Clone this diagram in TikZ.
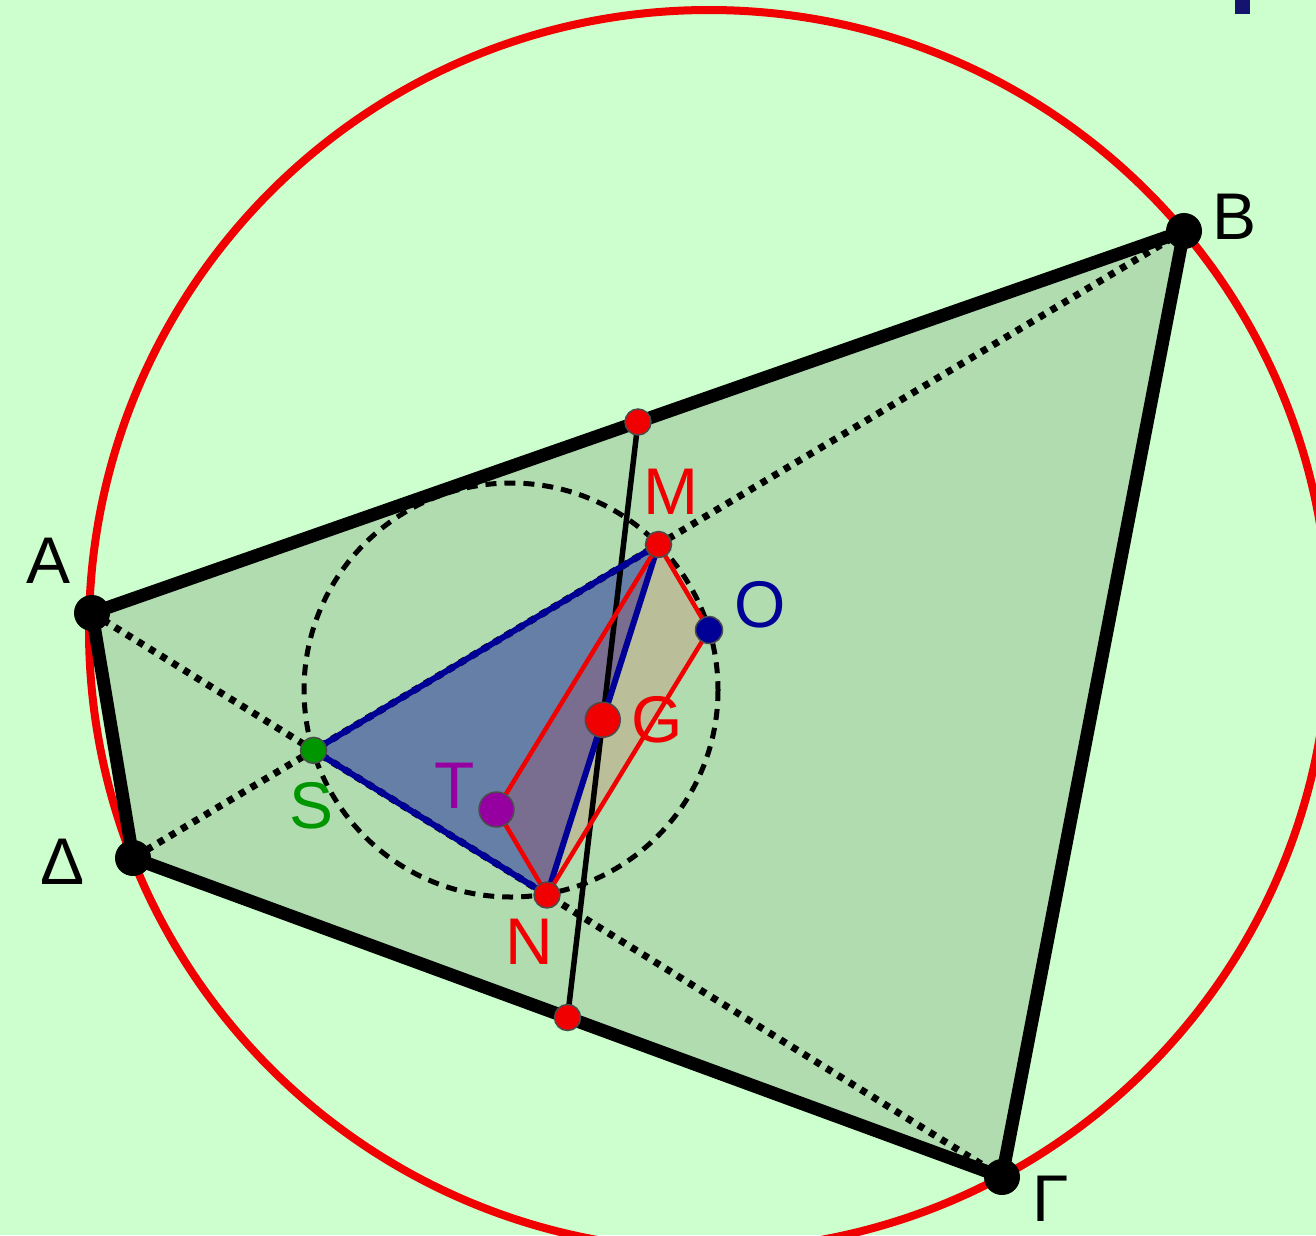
\documentclass[tikz,border=0pt]{standalone}
\usepackage{fontspec}
\setmainfont{Liberation Sans}
\usetikzlibrary{calc}
\definecolor{bgc}{RGB}{205,254,205}
\definecolor{quadc}{RGB}{176,220,176}
\definecolor{redc}{RGB}{240,0,0}
\definecolor{dblue}{RGB}{0,0,150}
\definecolor{purp}{RGB}{150,0,160}
\definecolor{grn}{RGB}{0,150,0}
\definecolor{titleblue}{RGB}{20,20,110}
\tikzset{
  edge/.style={line width=13pt, line join=round, line cap=round},
  diag/.style={line width=7pt, dash pattern=on 6.5pt off 7pt},
  vdot/.style={circle, fill=black, minimum size=36pt, inner sep=0pt},
  rdot/.style={circle, fill=redc, draw=black!70, line width=1.5pt, minimum size=26pt, inner sep=0pt},
  lbl/.style={inner sep=0pt, font=\fontsize{66}{70}\selectfont},
}
\begin{document}
\begin{tikzpicture}[x=1pt,y=-1pt]
\fill[bgc] (0,0) rectangle (1316,1235);
\useasboundingbox (0,0) rectangle (1316,1235);
\begin{scope}
\clip (0,0) rectangle (1316,1235);
% points
\coordinate (A) at (92,613);
\coordinate (B) at (1184,231);
\coordinate (C) at (1002,1177);
\coordinate (D) at (133,858);
\coordinate (O) at (709,630);
\coordinate (M) at ($(B)!0.5!(D)$);
\coordinate (N) at ($(A)!0.5!(C)$);
\coordinate (G) at ($(M)!0.5!(N)$);
\coordinate (T) at ($(O)!2!(G)$);
\coordinate (P) at ($(A)!0.5!(B)$);
\coordinate (Q) at ($(D)!0.5!(C)$);
\coordinate (S) at (intersection of A--C and B--D);
% title fragment
\fill[titleblue] (1235,0) rectangle (1250,14);
% circumcircle
\draw[redc, line width=8pt] (O) circle (620);
% quadrilateral fill
\fill[quadc] (A) -- (B) -- (C) -- (D) -- cycle;
% diagonals
\draw[diag] (A) -- (C);
\draw[diag] (B) -- (D);
% dashed circle
\draw[line width=5pt, dash pattern=on 11pt off 8pt] (511,690) circle (207);
% fills
\fill[blue!60!black, fill opacity=0.42] (S) -- (M) -- (N) -- cycle;
\fill[red, fill opacity=0.13] (M) -- (O) -- (N) -- (T) -- cycle;
% bimedian
\draw[line width=5.5pt] (P) -- (Q);
% triangle edges
\draw[dblue, line width=6pt, line join=round] (S) -- (M) -- (N) -- cycle;
% parallelogram edges
\draw[redc, line width=4.5pt, line join=round] (M) -- (O) -- (N) -- (T) -- cycle;
% quadrilateral edges
\draw[edge] (A) -- (B) -- (C) -- (D) -- cycle;
\end{scope}
% dots
\node[vdot] (dA) at (A) {};
\node[vdot] (dB) at (B) {};
\node[vdot] (dC) at (C) {};
\node[vdot] (dD) at (D) {};
\node[rdot] (dP) at (P) {};
\node[rdot] (dQ) at (Q) {};
\node[rdot] (dM) at (M) {};
\node[rdot] (dN) at (N) {};
\node[rdot, minimum size=35pt] (dG) at (G) {};
\node[rdot, fill=purp, minimum size=35pt] (dT) at (T) {};
\node[rdot, fill=dblue, minimum size=27pt] (dO) at (O) {};
\node[rdot, fill=grn, minimum size=26pt] (dS) at (S) {};
% labels
\node[lbl] (lA) at (49,561) {A};
\node[lbl] (lB) at (1234,217) {B};
\node[lbl] (lC) at (1051,1199) {Γ};
\node[lbl] (lD) at (63,862) {Δ};
\node[lbl, text=redc] (lM) at (671,492) {M};
\node[lbl, text=redc] (lN) at (529,942) {N};
\node[lbl, text=redc] (lG) at (657,720) {G};
\node[lbl, text=dblue] (lO) at (760,605) {O};
\node[lbl, text=purp] (lT) at (455,786) {T};
\node[lbl, text=grn] (lS) at (312,806) {S};
\end{tikzpicture}
\end{document}
